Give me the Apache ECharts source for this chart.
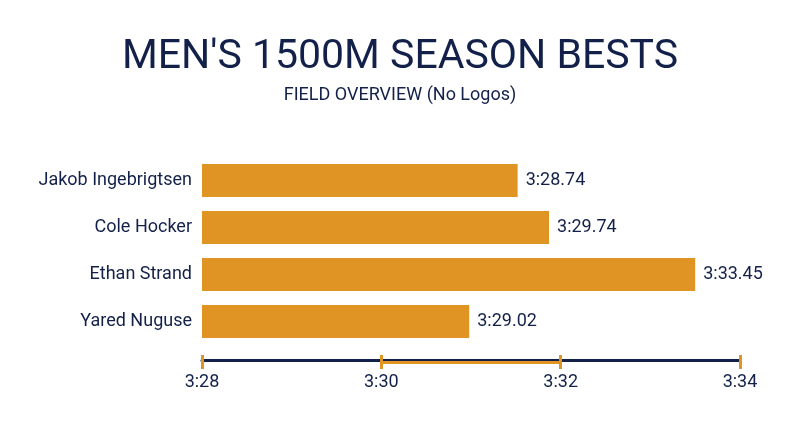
<!DOCTYPE html><html><head><meta charset="utf-8"><script src="https://cdn.jsdelivr.net/npm/echarts@6/dist/echarts.min.js"></script>
<style>html,body{margin:0;background:#fff}#c{width:800px;height:447px}</style></head><body><div id="c"></div><script>
const athletes=['Jakob Ingebrigtsen','Cole Hocker','Ethan Strand','Yared Nuguse'];
const barSeconds=[211.52,211.87,213.50,210.98];
const timeLabels=['3:28.74','3:29.74','3:33.45','3:29.02'];
const tickValues=[208,210,212,214];
const tickLabels={208:'3:28',210:'3:30',212:'3:32',214:'3:34'};
const F='Roboto, sans-serif';
const navy='#13214a', orange='#e09424';
const ch=echarts.init(document.getElementById('c'));
const tickMarks=tickValues.map(v=>[{xAxis:v,y:355},{xAxis:v,y:369}]);
ch.setOption({
 title:{text:"MEN'S 1500M SEASON BESTS",subtext:'FIELD OVERVIEW (No Logos)',left:'center',top:32,itemGap:8,
  textStyle:{fontFamily:F,fontSize:41,fontWeight:'normal',color:navy},
  subtextStyle:{fontFamily:F,fontSize:18,color:navy}},
 grid:{left:202,right:60,top:157,bottom:102},
 xAxis:{type:'value',min:208,max:214,interval:2,offset:15,
  axisLine:{show:true,lineStyle:{color:navy,width:3}},
  axisTick:{show:false},
  splitLine:{show:false},
  axisLabel:{fontFamily:F,fontSize:18,color:navy,margin:13,formatter:v=>tickLabels[v]||''}},
 yAxis:{type:'category',data:athletes,inverse:true,axisLine:{show:false},axisTick:{show:false},
  axisLabel:{fontFamily:F,fontSize:18,color:navy,margin:10}},
 series:[{type:'bar',data:barSeconds,barCategoryGap:'30%',itemStyle:{color:orange},
  label:{show:true,position:'right',distance:8,fontFamily:F,fontSize:18,color:navy,formatter:p=>timeLabels[p.dataIndex]},
  markLine:{silent:true,symbol:'none',label:{show:false},lineStyle:{color:orange,width:3,type:'solid'},
   data:[[{xAxis:210,y:362},{xAxis:212,y:362}]].concat(tickMarks)}}]
});
</script></body></html>
